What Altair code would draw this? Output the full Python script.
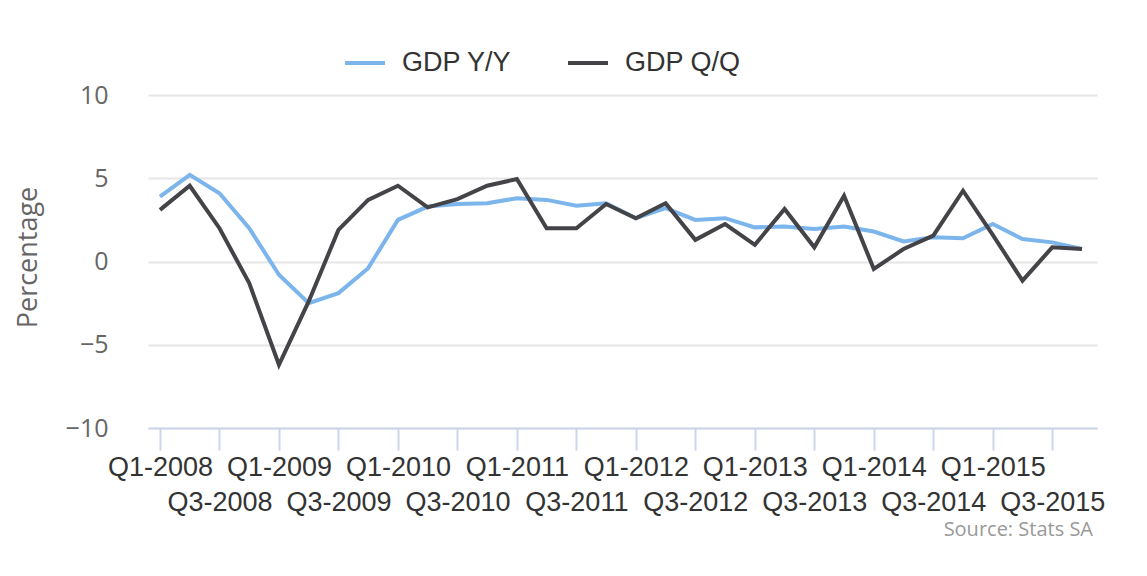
import altair as alt
import pandas as pd

quarters = [
    "Q1-2008", "Q2-2008", "Q3-2008", "Q4-2008",
    "Q1-2009", "Q2-2009", "Q3-2009", "Q4-2009",
    "Q1-2010", "Q2-2010", "Q3-2010", "Q4-2010",
    "Q1-2011", "Q2-2011", "Q3-2011", "Q4-2011",
    "Q1-2012", "Q2-2012", "Q3-2012", "Q4-2012",
    "Q1-2013", "Q2-2013", "Q3-2013", "Q4-2013",
    "Q1-2014", "Q2-2014", "Q3-2014", "Q4-2014",
    "Q1-2015", "Q2-2015", "Q3-2015", "Q4-2015",
]
tick_labels = quarters[::2]

gdp_yy = [3.9, 5.2, 4.1, 2.0,
          -0.8, -2.5, -1.9, -0.4,
          2.5, 3.3, 3.45, 3.5,
          3.8, 3.7, 3.35, 3.5,
          2.6, 3.2, 2.5, 2.6,
          2.05, 2.1, 1.95, 2.1,
          1.8, 1.2, 1.45, 1.4,
          2.25, 1.35, 1.15, 0.75]
gdp_qq = [3.1, 4.55, 2.0, -1.3,
          -6.2, -2.4, 1.9, 3.7,
          4.55, 3.25, 3.75, 4.55,
          4.95, 2.0, 2.0, 3.45,
          2.6, 3.5, 1.3, 2.25,
          1.0, 3.15, 0.85, 3.95,
          -0.45, 0.75, 1.55, 4.25,
          1.6, -1.15, 0.85, 0.75]

series_names = ["GDP Y/Y", "GDP Q/Q"]
series_colors = ["#7cb5ec", "#434348"]
y_ticks = [-10, -5, 0, 5, 10]
source_text = ["Source: Stats SA"]

rows = []
for name, vals in zip(series_names, [gdp_yy, gdp_qq]):
    for q, v in zip(quarters, vals):
        rows.append({"quarter": q, "value": v, "series": name})
df = pd.DataFrame(rows)

W, H = 949, 333

lines = alt.Chart(df).mark_line(strokeWidth=4).encode(
    x=alt.X(
        "quarter:N",
        sort=quarters,
        scale=alt.Scale(type="point", padding=0.454, align=0.444),
        axis=alt.Axis(
            values=tick_labels,
            title=None,
            labelExpr="slice(datum.value,0,2)=='Q1' ? datum.value : ['', datum.value]",
            labelOverlap=False,
            labelBound=False,
            labelFlush=False,
            labelAngle=0,
            labelFont="Liberation Sans",
            labelFontSize=27,
            labelColor="#333333",
            labelLineHeight=35,
            labelPadding=4,
            tickSize=22,
            tickWidth=2,
            tickColor="#ccd6eb",
            domainColor="#ccd6eb",
            domainWidth=2,
            grid=False,
        ),
    ),
    y=alt.Y(
        "value:Q",
        scale=alt.Scale(domain=[-10, 10], nice=False, zero=False),
        axis=alt.Axis(
            values=y_ticks,
            title="Percentage",
            domain=False,
            ticks=False,
            gridColor="#e6e6e6",
            gridWidth=2,
            labelFont="Open Sans",
            labelFontSize=25,
            labelColor="#666666",
            labelPadding=40,
            titleFont="Open Sans",
            titleFontSize=27,
            titleFontWeight="normal",
            titleColor="#666666",
            titleAngle=270,
            titleX=-112,
            titleY=162,
            titleAlign="center",
            titleBaseline="alphabetic",
        ),
    ),
    color=alt.Color(
        "series:N",
        sort=series_names,
        scale=alt.Scale(domain=series_names, range=series_colors),
        legend=alt.Legend(
            title=None,
            orient="none",
            legendX=195,
            legendY=-54,
            direction="horizontal",
            symbolType="stroke",
            symbolSize=1600,
            symbolStrokeWidth=4,
            labelFont="Liberation Sans",
            labelFontSize=27,
            labelColor="#333333",
            labelOffset=15,
            columnPadding=48,
            padding=0,
        ),
    ),
)

source = alt.Chart(pd.DataFrame({"t": source_text})).mark_text(
    align="right", baseline="middle", font="Open Sans", fontSize=20, color="#999999"
).encode(text="t:N", x=alt.value(945), y=alt.value(435))

chart = alt.layer(lines, source).properties(
    width=W,
    height=H,
    autosize=alt.AutoSizeParams(type="none"),
    padding={"left": 140, "top": 87, "right": 40, "bottom": 115},
).configure_view(stroke=None)

chart.save("out.html", embed_options={"renderer": "svg", "actions": False})
